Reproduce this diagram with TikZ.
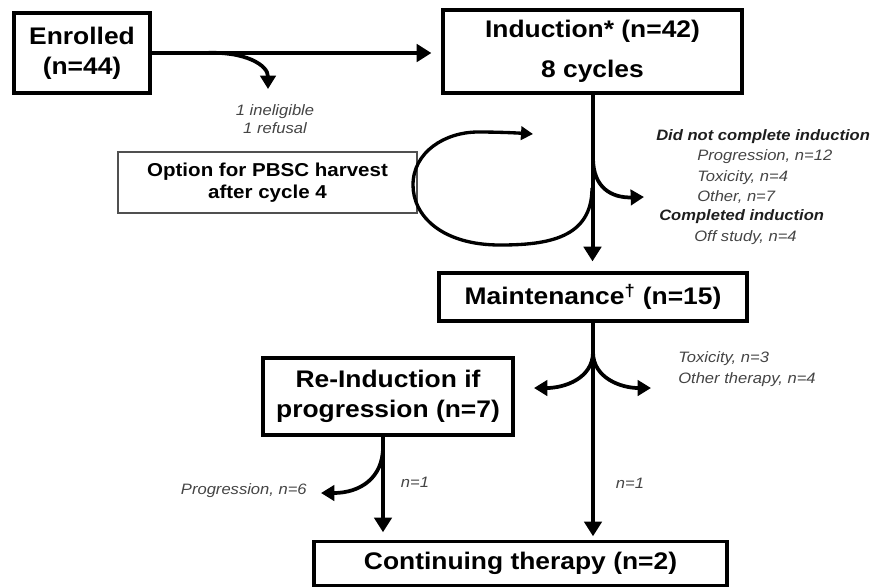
\documentclass[tikz,border=0pt]{standalone}
\usepackage{fontspec}
\setmainfont{Liberation Sans}[FakeStretch=1.1]
\usetikzlibrary{arrows.meta}
\definecolor{labgray}{HTML}{444444}
\definecolor{headgray}{HTML}{1E1E1E}
\definecolor{thingray}{HTML}{505050}
\begin{document}
\begin{tikzpicture}[x=0.75pt,y=-0.75pt,
  box/.style={draw, line width=2.4pt, inner sep=0pt, align=center},
  thinbox/.style={draw=thingray, line width=1.4pt, inner sep=0pt, align=center},
  arr/.style={line width=3pt, -{Triangle[length=11pt,width=13pt]}},
  br/.style={line width=2.8pt, -{Triangle[length=10pt,width=11.5pt]}},
  lab/.style={font=\itshape\fontsize{11.3}{13}\selectfont, text=labgray, inner sep=0pt},
  head/.style={font=\bfseries\itshape\fontsize{11.3}{13}\selectfont, text=headgray, inner sep=0pt}]
\useasboundingbox (0,0) rectangle (881,587);

% boxes
\node[box, minimum width=102pt, minimum height=60pt,
      font=\bfseries\fontsize{18}{22.5}\selectfont] (enr) at (82,53) {Enrolled\\(n=44)};
\node[box, minimum width=224.25pt, minimum height=62.25pt,
      font=\bfseries\fontsize{18}{30}\selectfont] (ind) at (592.5,51.5) {Induction* (n=42)\\8 cycles};
\node[thinbox, minimum width=224.25pt, minimum height=45.75pt,
      font=\bfseries\fontsize{14}{16.5}\selectfont] (pbsc) at (267.5,182.5) {Option for PBSC harvest\\after cycle 4};
\node[box, minimum width=231pt, minimum height=36pt,
      font=\bfseries\fontsize{18}{22}\selectfont] (mai) at (593,297) {Maintenance\textsuperscript{†} (n=15)};
\node[box, minimum width=187.5pt, minimum height=57.75pt,
      font=\bfseries\fontsize{18}{23}\selectfont] (rei) at (388,396.5) {Re-Induction if\\progression (n=7)};
\node[box, minimum width=309.75pt, minimum height=32.5pt,
      font=\bfseries\fontsize{18}{22}\selectfont] (con) at (520.5,563.5) {Continuing therapy (n=2)};

% labels
\node[lab, align=center] (inel) at (275,119) {1 ineligible\\[0.5pt]1 refusal};
\node[head, anchor=west] (dnc) at (656,137) {Did not complete induction};
\node[lab, anchor=west] (prog12) at (697,157) {Progression, n=12};
\node[lab, anchor=west] (tox4) at (697,178) {Toxicity, n=4};
\node[lab, anchor=west] (oth7) at (697,197) {Other, n=7};
\node[head, anchor=west] (cind) at (659,217) {Completed induction};
\node[lab, anchor=west] (off4) at (694,238) {Off study, n=4};
\node[lab, anchor=west] (tox3) at (678,359) {Toxicity, n=3};
\node[lab, anchor=west] (oth4) at (678,380) {Other therapy, n=4};
\node[lab, anchor=east] (prog6) at (307,491) {Progression, n=6};
\node[lab] (n1a) at (415,482) {n=1};
\node[lab] (n1b) at (630,483) {n=1};

% split points
\coordinate (s1) at (205,53);
\coordinate (s2) at (593,158);
\coordinate (s3) at (592,188);
\coordinate (s4) at (593,352);
\coordinate (s5) at (383,447);
\coordinate (t1) at (268,89);
\coordinate (t2) at (644,197);
\coordinate (t3) at (533,134);
\coordinate (t4) at (534,388);
\coordinate (t5) at (651,388);
\coordinate (t6) at (321,493);

% main connectors
\draw[arr, shorten >=7.5pt] (enr.east) -- (enr.east -| ind.west);
\draw[arr, shorten >=7.5pt] (ind.south) -- (ind.south |- mai.north);
\draw[arr, shorten >=3pt] (mai.south) -- (mai.south |- con.north);
\draw[arr, shorten >=6pt] ([xshift=-3.75pt]rei.south) -- ([xshift=-3.75pt]rei.south |- con.north);

% branches
\draw[br] (s1) .. controls (245,51) and (268,65) .. (t1);
\draw[br] (s2) .. controls (593,188) and (612,198) .. (t2);
\draw[line width=2.5pt, -{Triangle[length=9pt,width=10pt]}]
  (s3) .. controls (592,238) and (548,245) .. (500,245)
       .. controls (442,245) and (413,216) .. (413,185)
       .. controls (413,152) and (445,132) .. (478,132)
       .. controls (500,132) and (518,133) .. (t3);
\draw[br] (s4) .. controls (593,378) and (565,388) .. (t4);
\draw[br] (s4) .. controls (593,378) and (621,388) .. (t5);
\draw[br] (s5) .. controls (383,478) and (360,493) .. (t6);
\end{tikzpicture}
\end{document}
